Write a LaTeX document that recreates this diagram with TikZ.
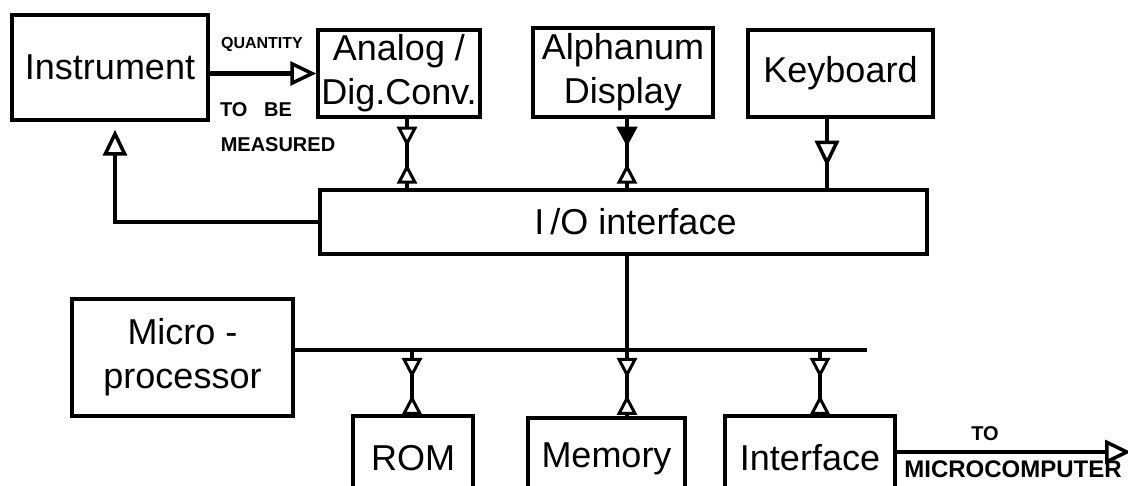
\documentclass[tikz,border=0pt]{standalone}
\usepackage{fontspec}
\setmainfont{Liberation Sans}
\usetikzlibrary{arrows.meta,decorations.markings}
\begin{document}
\begin{tikzpicture}[x=1pt,y=-1pt,
  box/.style={draw, line width=3.5pt, inner sep=0pt, align=center, font=\fontsize{36}{44}\selectfont},
  conn/.style={line width=4.5pt},
  oarr/.style={-{Triangle[fill=white,length=26pt,width=24pt,line width=3.5pt]}},
  dbl/.style={conn, postaction={decorate}, decoration={markings,
     mark=at position 28pt with {\arrow{Triangle[fill=white,length=20pt,width=20pt,line width=3pt]}},
     mark=at position 45pt with {\arrowreversed{Triangle[fill=white,length=20pt,width=20pt,line width=3pt]}}}},
  dblf/.style={conn, postaction={decorate}, decoration={markings,
     mark=at position 28pt with {\arrow{Triangle[length=20pt,width=20pt]}},
     mark=at position 45pt with {\arrowreversed{Triangle[fill=white,length=20pt,width=20pt,line width=3pt]}}}},
  downa/.style={conn, postaction={decorate}, decoration={markings,
     mark=at position 48pt with {\arrow{Triangle[fill=white,length=26pt,width=24pt,line width=3.5pt]}}}},
  lbl/.style={font=\bfseries\fontsize{20}{22}\selectfont, inner sep=0pt}
]
\useasboundingbox (0,0) rectangle (1128,486);
\clip (0,0) rectangle (1128,486);

% boxes
\node[box, minimum width=196pt, minimum height=105pt] (inst) at (110,67.5) {Instrument};
\node[box, minimum width=162pt, minimum height=87pt] (adc) at (399,73.5) {Analog /\\Dig.Conv.};
\node[box, minimum width=180pt, minimum height=89pt] (disp) at (623,72.5) {Alphanum\\Display};
\node[box, minimum width=185pt, minimum height=87pt] (kbd) at (840.5,73.5) {Keyboard};
\node[box, minimum width=607pt, minimum height=64pt] (io) at (623.5,222) {\hspace*{24pt}I\,/O interface};
\node[box, minimum width=221pt, minimum height=117pt] (mp) at (182.5,357.5) {Micro -\\processor};
\node[box, minimum width=120pt, minimum height=84pt] (rom) at (413,458) {ROM};
\node[box, minimum width=157pt, minimum height=82pt] (mem) at (606.5,459) {Memory};
\node[box, minimum width=170pt, minimum height=84pt] (ifc) at (810,458) {Interface};

% coordinates
\coordinate (busR) at (867,350);
\coordinate (out) at (1131,452);
\coordinate (adcx) at ([xshift=8pt]adc.south);
\coordinate (dispx) at ([xshift=4pt]disp.south);
\coordinate (kbdx) at ([xshift=-13.5pt]kbd.south);
\coordinate (iox) at ([xshift=3.5pt]io.south);
\coordinate (romx) at ([xshift=-1pt]rom.north);
\coordinate (ifcx) at ([xshift=10pt]ifc.north);
\coordinate (instx) at ([xshift=5pt]inst.south);

% connectors
\draw[conn, oarr] (inst.east |- adc.west) -- (adc.west);
\draw[dbl] (adcx) -- (adcx |- io.north);
\draw[dblf] (dispx) -- (dispx |- io.north);
\draw[downa] (kbdx) -- (kbdx |- io.north);
\draw[conn, oarr, shorten >=8pt] (io.west) -| (instx);
\draw[conn] (iox) -- (iox |- busR);
\draw[conn] (mp.east |- busR) -- (busR);
\draw[dbl] (romx |- busR) -- (romx);
\draw[dbl] (iox |- busR) -- (iox |- mem.north);
\draw[dbl] (ifcx |- busR) -- (ifcx);
\draw[conn, oarr] (ifc.east |- out) -- (out);

% labels
\node[lbl, font=\bfseries\fontsize{16}{18}\selectfont] (q) at (262,44) {QUANTITY};
\node[lbl] (tobe) at (256,110) {TO\ \ \ BE};
\node[lbl] (meas) at (278,145) {MEASURED};
\node[lbl] (to) at (985,434) {TO};
\node[lbl, font=\bfseries\fontsize{24}{26}\selectfont] (mc) at (1013,469) {MICROCOMPUTER};
\end{tikzpicture}
\end{document}
